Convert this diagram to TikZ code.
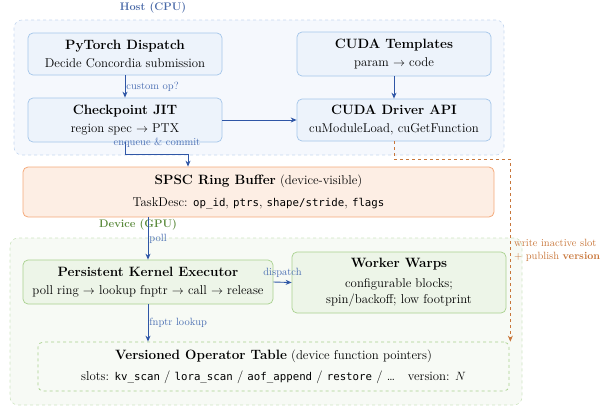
\documentclass[tikz,border=0pt]{standalone}
\usepackage{fontspec}
\setmonofont[Scale=0.84]{DejaVu Sans Mono}
\usetikzlibrary{arrows.meta,calc}
\definecolor{hostfill}{HTML}{F5F8FD}
\definecolor{hostline}{HTML}{C6D8F0}
\definecolor{bluefill}{HTML}{EDF3FB}
\definecolor{blueline}{HTML}{A4C6EA}
\definecolor{arrowblue}{HTML}{2F56A6}
\definecolor{labelblue}{HTML}{4B6FB3}
\definecolor{hosttitle}{HTML}{4A6AA8}
\definecolor{ringfill}{HTML}{FDEEE4}
\definecolor{ringline}{HTML}{F4A97A}
\definecolor{devfill}{HTML}{F7FAF5}
\definecolor{devline}{HTML}{CFE5C2}
\definecolor{greenfill}{HTML}{EDF5E8}
\definecolor{greenline}{HTML}{A9D18E}
\definecolor{devtitle}{HTML}{5B8A3C}
\definecolor{orangearr}{HTML}{C8763A}
\tikzset{
  x=1pt, y=-1pt,
  region/.style={draw, dashed, rounded corners=8pt, line width=0.6pt},
  hostbox/.style={draw=blueline, fill=bluefill, rounded corners=5pt, line width=0.7pt, align=center, inner sep=0pt},
  greenbox/.style={draw=greenline, fill=greenfill, rounded corners=5pt, line width=0.7pt, align=center, inner sep=0pt},
  conn/.style={draw=arrowblue, line width=0.9pt, -{Stealth[length=6pt,width=5pt]}},
  lbl/.style={text=labelblue, font=\fontsize{10.5}{12}\selectfont, inner sep=1pt},
  main/.style={font=\fontsize{12.8}{15}\selectfont},
}
\newcommand{\ttl}[1]{{\fontsize{13.5}{15}\selectfont\bfseries #1}}
\begin{document}
\begin{tikzpicture}
\useasboundingbox (0,0) rectangle (613,408);
% regions
\node[region, draw=hostline, fill=hostfill, minimum width=490pt, minimum height=135pt] (host) at (259,87.5) {};
\node[region, draw=devline, fill=devfill, minimum width=512pt, minimum height=167pt] (dev) at (266,321.5) {};
\node[text=hosttitle, font=\fontsize{11}{13}\selectfont\bfseries] (hostt) at (153,8) {Host (CPU)};
% host boxes
\node[hostbox, main, minimum width=194pt, minimum height=42pt] (pyt) at (125,54) {\ttl{PyTorch Dispatch}\\[3pt]Decide Concordia submission};
\node[hostbox, main, minimum width=194pt, minimum height=44pt] (tmpl) at (394,54) {\ttl{CUDA Templates}\\[3pt]param $\rightarrow$ code};
\node[hostbox, main, minimum width=194pt, minimum height=44pt] (jit) at (125,120) {\ttl{Checkpoint JIT}\\[3pt]region spec $\rightarrow$ PTX};
\node[hostbox, main, minimum width=194pt, minimum height=42pt] (drv) at (394,120) {\ttl{CUDA Driver API}\\[3pt]cuModuleLoad, cuGetFunction};
% ring
\node[draw=ringline, fill=ringfill, rounded corners=5pt, line width=0.8pt, align=center, inner sep=0pt, main, minimum width=471pt, minimum height=50pt] (ring) at (258.5,192) {\ttl{SPSC Ring Buffer} (device-visible)\\[7pt]TaskDesc: \texttt{op\_id}, \texttt{ptrs}, \texttt{shape/stride}, \texttt{flags}};
\node[text=devtitle, font=\fontsize{11}{13}\selectfont\bfseries] (devt) at (138,225) {Device (GPU)};
% device boxes
\node[greenbox, main, minimum width=250pt, minimum height=44pt] (pke) at (148,282) {\ttl{Persistent Kernel Executor}\\[3pt]poll ring $\rightarrow$ lookup fnptr $\rightarrow$ call $\rightarrow$ release};
\node[greenbox, main, minimum width=214pt, minimum height=61pt] (ww) at (399,282.5) {\ttl{Worker Warps}\\[5pt]configurable blocks;\\[1pt]spin/backoff; low footprint};
\node[draw=greenline, dashed, rounded corners=5pt, line width=0.7pt, align=center, inner sep=0pt, main, minimum width=471pt, minimum height=49pt] (vot) at (273.5,366.5) {\ttl{Versioned Operator Table} (device function pointers)\\[6pt]slots: \texttt{kv\_scan} / \texttt{lora\_scan} / \texttt{aof\_append} / \texttt{restore} / \dots\quad version: $N$};
% connectors
\draw[conn] (pyt.south) -- (jit.north) node[lbl, midway, right] (l1) {custom op?};
\draw[conn] (tmpl.south) -- (drv.north);
\draw[conn] (jit.east) -- (drv.west);
\draw[conn] (jit.south) -- ++(0,12) -| ([xshift=-70.5pt]ring.north);
\node[lbl] (l2) at (157,143) {enqueue \& commit};
\draw[conn] (ring.south -| pke.north) -- (pke.north) node[lbl, pos=0.5, right] (l3) {poll};
\draw[conn] (pke.east) -- (ww.west) node[lbl, midway, above=3pt] (l4) {dispatch};
\draw[conn] (pke.south) -- (vot.north -| pke.south) node[lbl, midway, right] (l5) {fnptr lookup};
\draw[draw=orangearr, line width=0.9pt, dashed, -{Stealth[length=6pt,width=5pt]}] (drv.south) -- ++(0,18) -| ([xshift=1pt]vot.north east);
\node[text=orangearr, font=\fontsize{10.5}{13}\selectfont, align=left, anchor=west, inner sep=0pt] (l6) at (514,250) {write inactive slot\\+ publish \textbf{version}};
\end{tikzpicture}
\end{document}
